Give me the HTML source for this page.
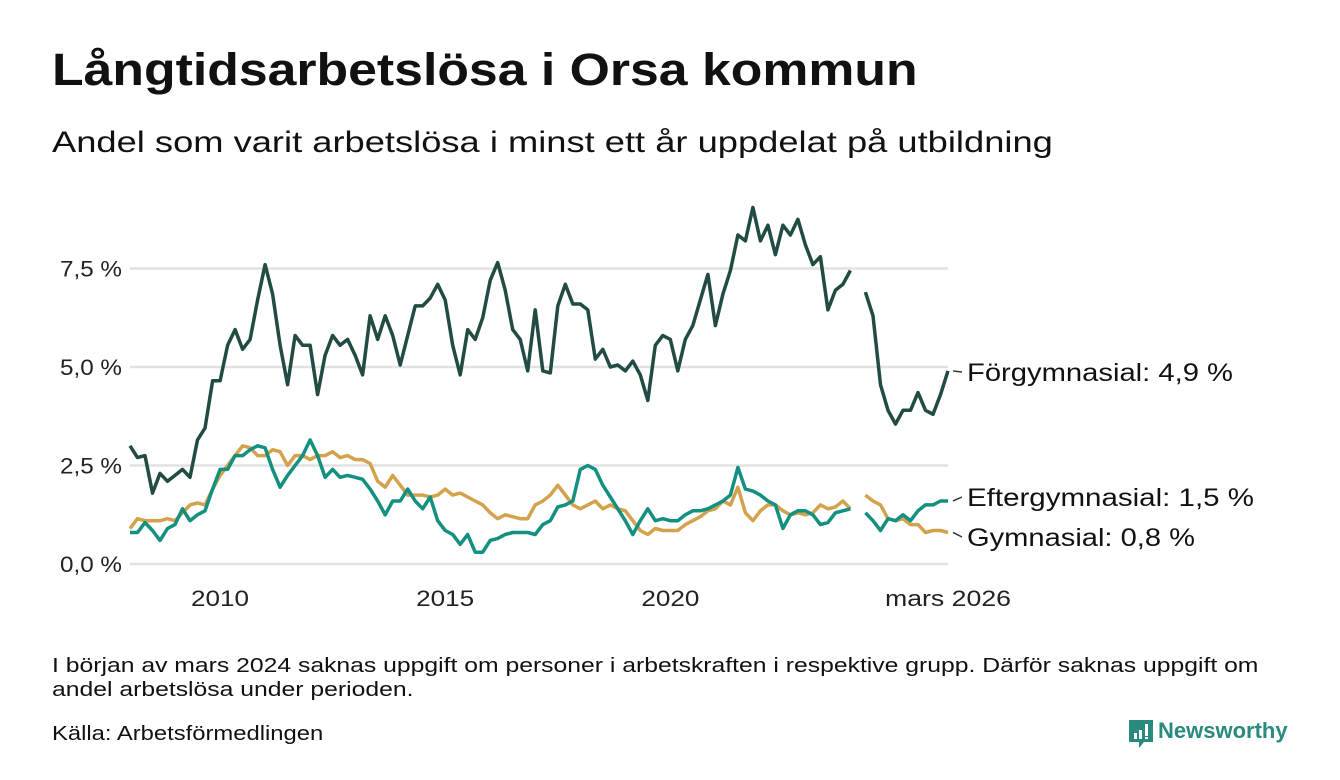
<!DOCTYPE html>
<html><head><meta charset="utf-8">
<style>
body{margin:0;width:1340px;height:780px;background:#fff;font-family:"Liberation Sans",sans-serif;color:#111;overflow:hidden;position:relative}
.t{position:absolute;white-space:nowrap;transform-origin:0 0}
</style></head><body>
<div class="t" style="left:52px;top:44px;font-size:45px;font-weight:bold;transform:scaleX(1.15)">Långtidsarbetslösa i Orsa kommun</div>
<div class="t" style="left:52px;top:126px;font-size:30px;transform:scaleX(1.21)">Andel som varit arbetslösa i minst ett år uppdelat på utbildning</div>
<svg id="chart" width="1340" height="640" style="position:absolute;left:0;top:0"></svg>
<div class="t" style="left:52px;top:654px;font-size:20px;line-height:24px;transform:scaleX(1.236)">I början av mars 2024 saknas uppgift om personer i arbetskraften i respektive grupp. Därför saknas uppgift om<br>andel arbetslösa under perioden.</div>
<div class="t" style="left:52px;top:723px;font-size:20px;transform:scaleX(1.19)">Källa: Arbetsförmedlingen</div>
<div class="t" style="left:1129px;top:718px;height:32px">
<svg width="26" height="30" style="position:absolute;left:0;top:2px"><path d="M0 0H24V22H15L10 28V22H0Z" fill="#2a8a7e"/><rect x="5" y="13" width="3" height="6" fill="#fff"/><rect x="10" y="10" width="3" height="9" fill="#fff"/><rect x="16" y="4" width="3" height="12" fill="#fff"/><rect x="16" y="17" width="3" height="2" fill="#fff"/></svg>
<span style="position:absolute;left:29px;top:0;font-size:22px;font-weight:bold;color:#2a8a7e">Newsworthy</span></div>
<script>
const startYear = 2008;
const stepYears = 1/6;
const yTicks = [0, 2.5, 5, 7.5];
const yTickLabels = ["0,0 %", "2,5 %", "5,0 %", "7,5 %"];
const xTicks = [2010, 2015, 2020];
const xTickLabels = ["2010", "2015", "2020"];
const lastLabel = "mars 2026";
const forgymnasial = [3.0,2.7,2.75,1.8,2.3,2.1,2.25,2.4,2.2,3.15,3.45,4.65,4.65,5.55,5.95,5.45,5.7,6.7,7.6,6.85,5.55,4.55,5.8,5.55,5.55,4.3,5.3,5.8,5.55,5.7,5.3,4.8,6.3,5.7,6.3,5.8,5.05,5.8,6.55,6.55,6.75,7.1,6.7,5.55,4.8,5.95,5.7,6.25,7.2,7.65,6.95,5.95,5.7,4.9,6.45,4.9,4.85,6.55,7.1,6.6,6.6,6.45,5.2,5.45,5.0,5.05,4.9,5.15,4.8,4.15,5.55,5.8,5.7,4.9,5.7,6.05,6.7,7.35,6.05,6.85,7.45,8.35,8.2,9.05,8.2,8.6,7.85,8.6,8.35,8.75,8.1,7.6,7.8,6.45,6.95,7.1,7.45,null,6.9,6.3,4.55,3.9,3.55,3.9,3.9,4.35,3.9,3.8,4.3,4.9];
const eftergymnasial = [0.8,0.8,1.05,0.85,0.6,0.9,1.0,1.4,1.1,1.25,1.35,1.9,2.4,2.4,2.75,2.75,2.9,3.0,2.95,2.4,1.95,2.25,2.5,2.75,3.15,2.75,2.2,2.4,2.2,2.25,2.2,2.15,1.9,1.6,1.25,1.6,1.6,1.9,1.6,1.4,1.7,1.1,0.85,0.75,0.5,0.75,0.3,0.3,0.6,0.65,0.75,0.8,0.8,0.8,0.75,1.0,1.1,1.45,1.5,1.6,2.4,2.5,2.4,2.0,1.7,1.4,1.1,0.75,1.1,1.4,1.1,1.15,1.1,1.1,1.25,1.35,1.35,1.4,1.5,1.6,1.75,2.45,1.9,1.85,1.75,1.6,1.5,0.9,1.25,1.35,1.35,1.25,1.0,1.05,1.3,1.35,1.4,null,1.3,1.1,0.85,1.15,1.1,1.25,1.1,1.35,1.5,1.5,1.6,1.6];
const gymnasial = [0.9,1.15,1.1,1.1,1.1,1.15,1.1,1.3,1.5,1.55,1.5,1.9,2.25,2.5,2.75,3.0,2.95,2.75,2.75,2.9,2.85,2.5,2.75,2.75,2.65,2.75,2.75,2.85,2.7,2.75,2.65,2.65,2.55,2.1,1.95,2.25,2.0,1.75,1.75,1.75,1.7,1.75,1.9,1.75,1.8,1.7,1.6,1.5,1.3,1.15,1.25,1.2,1.15,1.15,1.5,1.6,1.75,2.0,1.75,1.5,1.4,1.5,1.6,1.4,1.5,1.4,1.35,1.1,0.85,0.75,0.9,0.85,0.85,0.85,1.0,1.1,1.2,1.35,1.4,1.6,1.5,1.95,1.3,1.1,1.35,1.5,1.5,1.35,1.25,1.3,1.25,1.3,1.5,1.4,1.45,1.6,1.4,null,1.75,1.6,1.5,1.15,1.1,1.15,1.0,1.0,0.8,0.85,0.85,0.8];
const seriesNames = ["Förgymnasial: 4,9 %", "Eftergymnasial: 1,5 %", "Gymnasial: 0,8 %"];

const svg = document.getElementById('chart');
const NS = 'http://www.w3.org/2000/svg';
const X0 = 130, X1 = 948, Y0 = 564, PXV = 39.4;
const tEnd = 2026 + 2/12;
function xs(t){ return X0 + (t - startYear) / (tEnd - startYear) * (X1 - X0); }
function ys(v){ return Y0 - v * PXV; }
function mk(tag, attrs){ const e = document.createElementNS(NS, tag); for (const k in attrs) e.setAttribute(k, attrs[k]); svg.appendChild(e); return e; }

yTicks.forEach((v, i) => {
  const g = mk('line', {x1: X0, x2: X1, y1: ys(v), y2: ys(v), stroke: '#e2e2e6', 'stroke-width': 2.5});
  
  
  const tx = mk('text', {x: 122, y: ys(v) + 8, 'text-anchor': 'end', 'font-size': 22, fill: '#222', 'font-family': 'Liberation Sans, sans-serif', textLength: 62, lengthAdjust: 'spacingAndGlyphs'});
  tx.textContent = yTickLabels[i];
  
  
});
xTicks.forEach((t, i) => {
  const tx = mk('text', {x: xs(t), y: 606, 'text-anchor': 'middle', 'font-size': 22, fill: '#222', 'font-family': 'Liberation Sans, sans-serif', textLength: 58, lengthAdjust: 'spacingAndGlyphs'});
  tx.textContent = xTickLabels[i];
  
  
});
const lt = mk('text', {x: X1, y: 606, 'text-anchor': 'middle', 'font-size': 22, fill: '#222', 'font-family': 'Liberation Sans, sans-serif', textLength: 126, lengthAdjust: 'spacingAndGlyphs'});
lt.textContent = lastLabel;



function pathFor(arr){
  let d = '', pen = false;
  arr.forEach((v, i) => {
    if (v === null) { pen = false; return; }
    const t = startYear + i * stepYears;
    d += (pen ? 'L' : 'M') + xs(t).toFixed(1) + ' ' + ys(v).toFixed(1);
    pen = true;
  });
  return d;
}
const all = [[forgymnasial, '#214b43', 'line-forgymnasial'], [gymnasial, '#d4a24c', 'line-gymnasial'], [eftergymnasial, '#13907f', 'line-eftergymnasial']];
all.forEach(s => {
  const p = mk('path', {d: pathFor(s[0]), fill: 'none', stroke: s[1], 'stroke-width': 3.5, 'stroke-linejoin': 'round'});
  
  
});
const lastVals = [forgymnasial[forgymnasial.length-1], eftergymnasial[eftergymnasial.length-1], gymnasial[gymnasial.length-1]];
const labelY = [372, 497, 537];
const labelLen = [266, 287, 228];
const lastX = xs(startYear + (forgymnasial.length - 1) * stepYears);
seriesNames.forEach((n, i) => {
  const c = mk('line', {x1: lastX + 5, y1: ys(lastVals[i]), x2: 962, y2: labelY[i], stroke: '#333', 'stroke-width': 1.5});
  
  
  const tx = mk('text', {x: 967, y: labelY[i] + 9, 'font-size': 25, fill: '#111', 'font-family': 'Liberation Sans, sans-serif', textLength: labelLen[i], lengthAdjust: 'spacingAndGlyphs'});
  tx.textContent = n;
  
  
});
</script>
</body></html>
